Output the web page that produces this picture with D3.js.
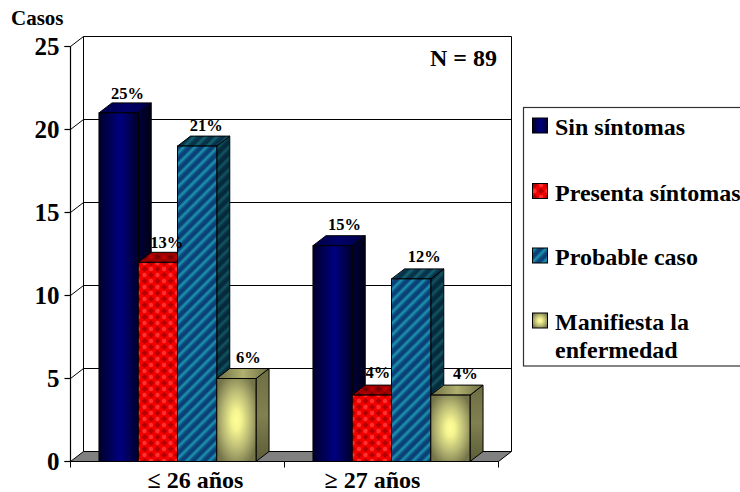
<!DOCTYPE html>
<html><head><meta charset="utf-8">
<script src="https://cdn.jsdelivr.net/npm/d3@7"></script>
<style>
html,body{margin:0;padding:0;background:#fff;overflow:hidden}
text{font-family:"Liberation Serif","Times New Roman",serif;font-weight:bold;fill:#000}
</style></head><body>
<script>
const categories = ["≤ 26 años", "≥ 27 años"];
const categoryNudge = [18, -19];
const seriesNames = ["Sin síntomas", "Presenta síntomas", "Probable caso", "Manifiesta la enfermedad"];
const sinSintomas = [21, 13];
const presentaSintomas = [12, 4];
const probableCaso = [19, 11];
const manifiesta = [5, 4];
const pctSin = ["25%", "15%"];
const pctPresenta = ["13%", "4%"];
const pctProbable = ["21%", "12%"];
const pctManifiesta = ["6%", "4%"];
const labelNudgeX = [[9, 12], [9, 6], [9, 13], [12, 15]];
const labelNudgeY = [[14, 16], [14, 17.5], [15.5, 16.5], [16, 16.5]];
const yTicks = [0, 5, 10, 15, 20, 25];

const seriesValues = [sinSintomas, presentaSintomas, probableCaso, manifiesta];
const seriesPct = [pctSin, pctPresenta, pctProbable, pctManifiesta];
const seriesKeys = ["navy", "red", "teal", "yellow"];

const W = 740, H = 492, DX = 13, DY = 10;
const svg = d3.select("body").append("svg").attr("width", W).attr("height", H).style("display", "block");
const defs = svg.append("defs");

const y = d3.scaleLinear().domain([0, 25]).range([461.5, 46.5]);
const x0 = d3.scaleBand().domain(categories).range([70.5, 498.5]);
const x1 = d3.scaleBand().domain(seriesKeys).range([0, x0.bandwidth()]).paddingInner(0).paddingOuter(0.725);

function stops(g, arr) { arr.forEach(([o, c]) => g.append("stop").attr("offset", o).attr("stop-color", c)); }

stops(defs.append("linearGradient").attr("id", "navyFront"), [[0, "#00002a"], [0.55, "#000080"], [1, "#00002a"]]);
stops(defs.append("linearGradient").attr("id", "navyTop").attr("x2", 1), [[0, "#000048"], [0.5, "#000068"], [1, "#000048"]]);
stops(defs.append("linearGradient").attr("id", "navySide"), [[0, "#00003a"], [1, "#000018"]]);

function redPattern(id, bg, spot, dark) {
  const p = defs.append("pattern").attr("id", id).attr("patternUnits", "userSpaceOnUse").attr("width", 13).attr("height", 12).attr("x", 138).attr("y", 263);
  p.append("rect").attr("width", 13).attr("height", 12).attr("fill", bg);
  [[0, 0], [13, 0], [0, 12], [13, 12], [6.5, 6]].forEach(([a, b]) =>
    p.append("path").attr("d", `M${a} ${b - 3}L${a + 3} ${b}L${a} ${b + 3}L${a - 3} ${b}Z`).attr("fill", dark));
  [[6.5, 0], [6.5, 12], [0, 6], [13, 6]].forEach(([a, b]) =>
    p.append("circle").attr("cx", a).attr("cy", b).attr("r", 2.2).attr("fill", spot));
}
redPattern("redFront", "#f20000", "#ff3030", "#b00000");
redPattern("redTop", "#a00000", "#c00000", "#780000");

function tealPattern(id, a, b) {
  const mid = d3.interpolateRgb(a, b)(0.5);
  const p = defs.append("pattern").attr("id", id).attr("patternUnits", "userSpaceOnUse").attr("width", 8).attr("height", 8).attr("patternTransform", "rotate(-45)");
  p.append("rect").attr("width", 8).attr("height", 8).attr("fill", a);
  p.append("rect").attr("y", 1).attr("width", 8).attr("height", 2.4).attr("fill", b);
  p.append("rect").attr("y", 0).attr("width", 8).attr("height", 1).attr("fill", mid);
  p.append("rect").attr("y", 3.4).attr("width", 8).attr("height", 1).attr("fill", mid);
}
tealPattern("tealFront", "#0a3f78", "#1a8ca8");
tealPattern("tealTop", "#07324a", "#14606f");
tealPattern("tealSide", "#042a3c", "#124f5c");

const ry = defs.append("radialGradient").attr("id", "yellowFront").attr("cx", .5).attr("cy", .5).attr("r", .6);
stops(ry, [[0, "#ffff99"], [0.2, "#f4f490"], [0.6, "#b8b874"], [1, "#74744a"]]);
stops(defs.append("linearGradient").attr("id", "yellowTop").attr("x2", 1), [[0, "#6e6e44"], [0.5, "#b0b070"], [1, "#6e6e44"]]);
stops(defs.append("linearGradient").attr("id", "yellowSide").attr("x2", 0).attr("y2", 1), [[0, "#6e6e44"], [0.5, "#808050"], [1, "#5c5c38"]]);

const faces = {
  navy: { front: "url(#navyFront)", top: "url(#navyTop)", side: "url(#navySide)" },
  red: { front: "url(#redFront)", top: "url(#redTop)", side: "url(#redTop)" },
  teal: { front: "url(#tealFront)", top: "url(#tealTop)", side: "url(#tealSide)" },
  yellow: { front: "url(#yellowFront)", top: "url(#yellowTop)", side: "url(#yellowSide)" }
};

const x = 70.5, xr = 498.5, base = y(0);
svg.append("path").attr("d", `M${x} ${base}L${x + DX} ${base - DY}L${xr + DX} ${base - DY}L${xr} ${base}Z`)
  .attr("fill", "#808080").attr("stroke", "#000").attr("stroke-width", 1);

const grid = svg.append("g").attr("fill", "none").attr("stroke", "#000").attr("stroke-width", 1);
yTicks.forEach(t => {
  const yy = y(t);
  if (t > 0) grid.append("path").attr("d", `M${x} ${yy}L${x + DX} ${yy - DY}L${xr + DX} ${yy - DY}`);
});
grid.append("path").attr("d", `M${x + DX} ${y(25) - DY}V${base - DY}`);
grid.append("path").attr("d", `M${xr + DX} ${y(25) - DY}V${base - DY}`);

const yAxis = d3.axisLeft(y).tickValues(yTicks).tickSize(6).tickPadding(0).offset(0);
const gy = svg.append("g").attr("transform", `translate(${x},0)`).call(yAxis);
gy.selectAll("text").style("font-size", "25px").attr("dy", "0.34em").attr("x", -11);
gy.selectAll("path,line").attr("stroke", "#000").attr("stroke-width", 1.2);

const xAxis = d3.axisBottom(x0).tickSize(0).tickPadding(0).offset(0);
const gx = svg.append("g").attr("transform", `translate(0,${base})`).call(xAxis);
gx.select(".domain").attr("stroke", "#000").attr("stroke-width", 1.2);
gx.selectAll("text").style("font-size", "24px")
  .attr("x", (d, i) => categoryNudge[i]).attr("y", 26).attr("dy", 0);
const edges = [...categories.map(c => x0(c)), xr];
svg.append("g").selectAll("line").data(edges).join("line")
  .attr("x1", d => d).attr("x2", d => d).attr("y1", base).attr("y2", base + 6)
  .attr("stroke", "#000").attr("stroke-width", 1);

const marks = [];
seriesKeys.forEach((k, s) => categories.forEach((c, i) => marks.push({ k, c, v: seriesValues[s][i], pct: seriesPct[s][i], nx: labelNudgeX[s][i], ny: labelNudgeY[s][i] })));
const barG = svg.append("g");
const bars = barG.selectAll("g").data(marks).join("g");
const bx = d => x0(d.c) + x1(d.k), bw = x1.bandwidth();
bars.append("path").attr("d", d => `M${bx(d) + bw} ${y(d.v)}l${DX} ${-DY}V${base - DY}L${bx(d) + bw} ${base}Z`)
  .attr("fill", d => faces[d.k].side).attr("stroke", "#000");
bars.append("path").attr("d", d => `M${bx(d)} ${y(d.v)}l${DX} ${-DY}h${bw}l${-DX} ${DY}Z`)
  .attr("fill", d => faces[d.k].top).attr("stroke", "#000");
bars.append("rect").attr("x", bx).attr("y", d => y(d.v)).attr("width", bw).attr("height", d => base - y(d.v))
  .attr("fill", d => faces[d.k].front).attr("stroke", "#000");

svg.append("g").selectAll("text").data(marks).join("text")
  .attr("x", d => bx(d) + bw / 2 + d.nx).attr("y", d => y(d.v) - d.ny)
  .attr("text-anchor", "middle").style("font-size", "16.5px").text(d => d.pct);

svg.append("text").attr("x", 11).attr("y", 25).style("font-size", "21px").text("Casos");
svg.append("text").attr("x", 430).attr("y", 66).style("font-size", "24px").text("N = 89");

svg.append("rect").attr("x", 523.5).attr("y", 107.5).attr("width", 240).attr("height", 258.5)
  .attr("fill", "#fff").attr("stroke", "#333").attr("stroke-width", 1.2);
const legendY = [126, 191.5, 256, 321];
const leg = svg.append("g").selectAll("g").data(seriesKeys).join("g");
leg.append("rect").attr("x", 532.5).attr("y", (d, i) => legendY[i] - 8).attr("width", 15).attr("height", 15)
  .attr("fill", d => faces[d].front).attr("stroke", "#000");
const legLines = seriesNames.map((n, i) => i === 3 ? ["Manifiesta la", "enfermedad"] : [n]);
leg.each(function (d, i) {
  d3.select(this).selectAll("text").data(legLines[i]).join("text")
    .attr("x", 555).attr("y", (t, j) => legendY[i] + 9 + j * 28).style("font-size", "24px").text(t => t);
});
</script>
</body></html>
